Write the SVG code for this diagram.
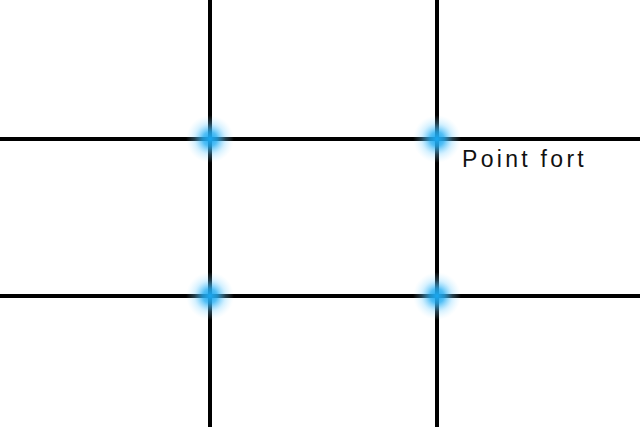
<svg xmlns="http://www.w3.org/2000/svg" width="640" height="427" viewBox="0 0 640 427">
  <defs>
    <radialGradient id="glow">
      <stop offset="0" stop-color="#18a8f2" stop-opacity="1"/>
      <stop offset="0.3" stop-color="#28b0f4" stop-opacity="0.8"/>
      <stop offset="0.65" stop-color="#70cfff" stop-opacity="0.3"/>
      <stop offset="1" stop-color="#b0e6ff" stop-opacity="0"/>
    </radialGradient>
  </defs>
  <style>
    .ln { stroke: #000; stroke-width: 4; }
    .gl { fill: url(#glow); }
    .lbl { font-family: "Liberation Sans", Arial, sans-serif; font-size: 23px; letter-spacing: 3.3px; fill: #111; }
  </style>
  <rect width="640" height="427" fill="#fff"/>
  <g id="connectors">
    <line class="ln" x1="210" y1="0" x2="210" y2="427"/>
    <line class="ln" x1="437" y1="0" x2="437" y2="427"/>
    <line class="ln" x1="0" y1="139" x2="640" y2="139"/>
    <line class="ln" x1="0" y1="296" x2="640" y2="296"/>
  </g>
  <g id="p1"><circle class="gl" cx="210" cy="139" r="24"/></g>
  <g id="p2"><circle class="gl" cx="437" cy="139" r="24"/></g>
  <g id="p3"><circle class="gl" cx="210" cy="296" r="24"/></g>
  <g id="p4"><circle class="gl" cx="437" cy="296" r="24"/></g>
  <g id="label"><text class="lbl" x="462" y="167">Point fort</text></g>
</svg>
